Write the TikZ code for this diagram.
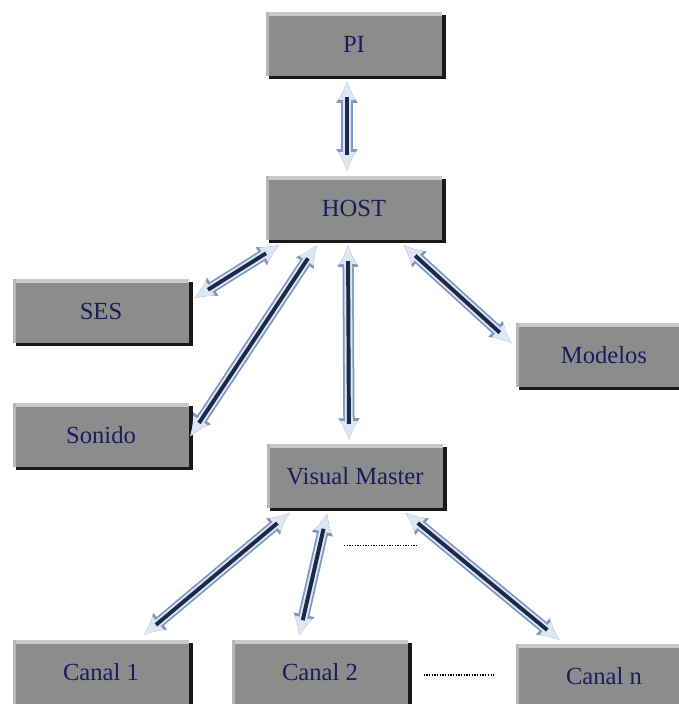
\documentclass[tikz,border=0pt]{standalone}
\usepackage{fontspec}
\setmainfont{Liberation Serif}
\usepackage{tikz}
\usetikzlibrary{arrows.meta,calc,shadows}
\definecolor{BoxGray}{HTML}{8C8C8C}
\definecolor{BoxEdge}{HTML}{C9C9C9}
\definecolor{LabelNavy}{HTML}{1C1C5C}
\definecolor{ArrowCore}{HTML}{1B2A48}
\definecolor{ArrowBody}{HTML}{DCE7F4}
\definecolor{ArrowGlow}{HTML}{7F97C4}

\tikzset{
  box/.style={fill=BoxGray, draw=none, minimum width=4.42cm, minimum height=1.6cm,
    text=LabelNavy, font=\fontsize{17.5}{20}\selectfont,
    drop shadow={shadow xshift=2.2pt, shadow yshift=-2.2pt, fill=black, opacity=0.9},
    path picture={%
      \fill[BoxEdge] (path picture bounding box.north west) rectangle
        ([yshift=-2.5pt]path picture bounding box.north east);
      \fill[BoxEdge!70!BoxGray] (path picture bounding box.north west) rectangle
        ([xshift=2.5pt]path picture bounding box.south west);}},
  link/.style={{Latex[length=14pt,width=13pt]}-{Latex[length=14pt,width=13pt]},
    line width=5.5pt, draw=ArrowBody,
    preaction={draw=ArrowGlow, line width=8pt,
      {Latex[length=16pt,width=16pt]}-{Latex[length=16pt,width=16pt]}},
    postaction={draw=ArrowCore, line width=2.8pt, -, shorten <=12pt, shorten >=12pt}},
  dots/.style={draw=black, densely dotted, line width=0.9pt}
}

\begin{document}
\begin{tikzpicture}[x=0.025cm, y=-0.025cm]
  \useasboundingbox (0,0) rectangle (678,704);
  % Boxes (centres in pixels of the sketch)
  \foreach \nm/\x/\y/\txt in {%
    pi/354/44/PI,
    host/354/208/HOST,
    ses/101/311/SES,
    sonido/101/435/Sonido,
    modelos/604/355/Modelos,
    vm/355/476/Visual Master,
    canal1/101/672/Canal 1,
    canal2/320/672/Canal 2,
    canaln/604/676/Canal n}
  {%
    \node[box] (\nm) at (\x,\y) {\txt};
  }
  % Links
  \draw[link] ($(pi.south)+(-7,4)$) -- ($(host.north)+(-7,-4)$);
  \draw[link] ($(host.south west)+(15,4)$) -- ($(ses.north east)+(4,20)$);
  \draw[link] ($(host.south west)+(52,4)$) -- ($(sonido.east)+(0,2)$);
  \draw[link] ($(host.south)+(-6,4)$) -- ($(vm.north)+(-6,-3)$);
  \draw[link] ($(host.south east)+(-40,4)$) -- ($(modelos.west)+(-3,-11)$);
  \draw[link] ($(vm.south west)+(24,4)$) -- ($(canal1.north)+(42,-4)$);
  \draw[link] ($(vm.south west)+(61,4)$) -- ($(canal2.north)+(-21,-3)$);
  \draw[link] ($(vm.south east)+(-39,4)$) -- ($(canaln.north west)+(45,-3)$);
  % Dots for the other channels
  \draw[dots] ($(vm.south)+(-11,37)$) -- ($(vm.south)+(62,37)$);
  \draw[dots] ($(canal2.east)+(15,3)$) -- ($(canaln.west)+(-20,-1)$);
\end{tikzpicture}
\end{document}
